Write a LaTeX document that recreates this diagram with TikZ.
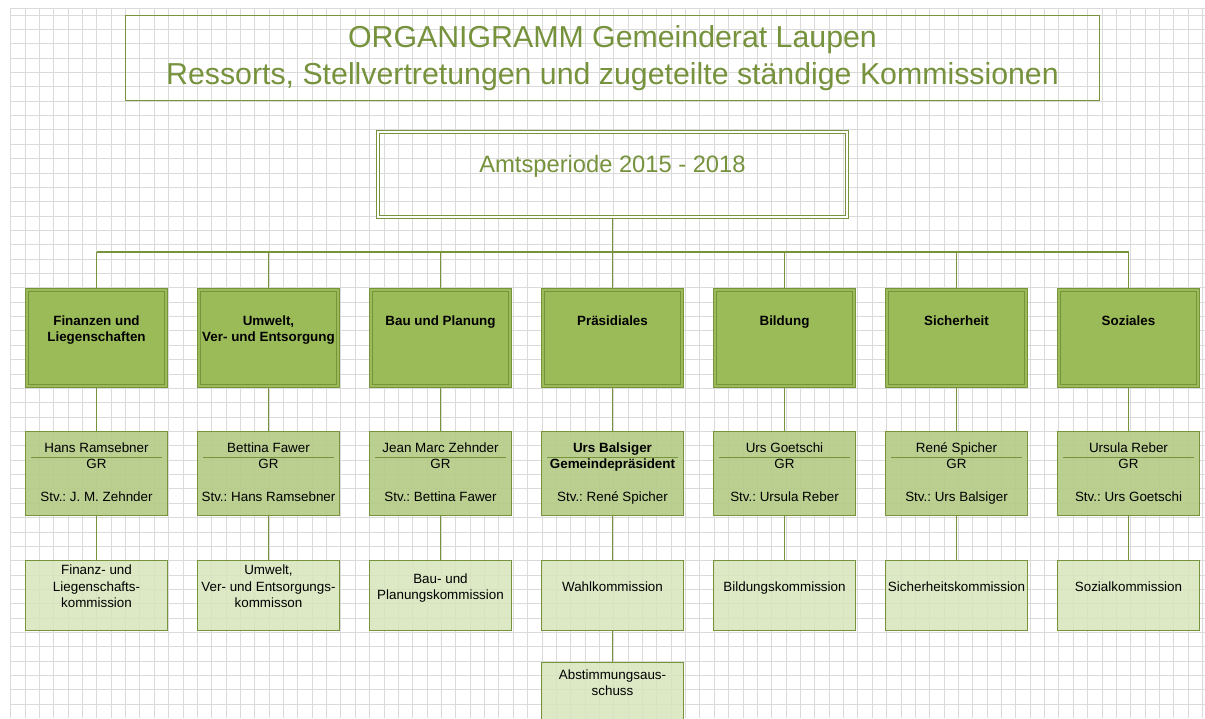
\documentclass[tikz,border=0pt]{standalone}
\usepackage{fontspec}
\setmainfont{Liberation Sans}
\frenchspacing
\definecolor{oborder}{HTML}{77933C}
\definecolor{otitle}{HTML}{76923C}
\definecolor{topfill}{HTML}{9BBB59}
\definecolor{midfill}{HTML}{B6CC89}
\definecolor{lowfill}{HTML}{D8E4BC}
\definecolor{gridc}{HTML}{DADADA}
\begin{document}
\begin{tikzpicture}[x=1pt,y=-1pt,
  gridline/.style={draw=gridc, line width=0.8pt},
  conn/.style={draw=oborder, line width=1.3pt},
  titlebox/.style={rectangle, draw=oborder, line width=1.2pt, minimum width=973.8pt, minimum height=84.8pt, inner sep=0pt, align=center, text=otitle, font=\fontsize{30.3}{36.7}\selectfont\frenchspacing},
  amtbox/.style={rectangle, draw=oborder, line width=0.9pt, double=white, double distance=1.8pt, minimum width=469.4pt, minimum height=85.4pt, inner sep=0pt},
  amttext/.style={text=otitle, font=\fontsize{23.7}{27}\selectfont, inner sep=0pt},
  deptbox/.style={rectangle, draw=oborder, line width=1.1pt, double=topfill, double distance=1.6pt, fill=topfill, minimum width=139.2pt, minimum height=96.2pt, inner sep=0pt},
  depttext/.style={anchor=north, align=center, inner sep=0pt, font=\fontsize{13.4}{16.4}\selectfont\bfseries\frenchspacing},
  persbox/.style={rectangle, draw=oborder, line width=1.2pt, fill=midfill, fill opacity=0.93, text opacity=1, minimum width=141.8pt, minimum height=83.8pt, inner sep=0pt, align=center, font=\fontsize{13.4}{16.4}\selectfont\frenchspacing},
  kombox/.style={rectangle, draw=oborder, line width=1.2pt, fill=lowfill, fill opacity=0.85, draw opacity=1, minimum width=141.8pt, minimum height=69.8pt, inner sep=0pt},
  komtext/.style={align=center, inner sep=0pt, font=\fontsize{13.4}{16.4}\selectfont\frenchspacing},
  sepline/.style={draw=oborder, line width=0.9pt}
]
\useasboundingbox (0,0) rectangle (1205,718);
\fill[white] (0,0) rectangle (1205,718);
% grid
\foreach \i in {0,...,83} { \draw[gridline] ({10.6+\i*14.36},8) -- ({10.6+\i*14.36},718); }
\foreach \k in {1,...,49} { \draw[gridline] (10,{0.6+\k*14.36}) -- (1205,{0.6+\k*14.36}); }
\draw[gridline] (10,8) -- (1205,8);

% title
\node[titlebox] (title) at (612.5,58) {ORGANIGRAMM Gemeinderat Laupen\\Ressorts, Stellvertretungen und zugeteilte ständige Kommissionen};

% Amtsperiode
\node[amtbox] (amt) at (612.5,174.5) {};
\node[amttext] (amtt) at (612.5,166.5) {Amtsperiode 2015 - 2018};

% departments
\node[deptbox] (d1) at (96.5,338) {};
\node[deptbox] (d2) at (268.5,338) {};
\node[deptbox] (d3) at (440.5,338) {};
\node[deptbox] (d4) at (612.5,338) {};
\node[deptbox] (d5) at (784.5,338) {};
\node[deptbox] (d6) at (956.5,338) {};
\node[deptbox] (d7) at (1128.5,338) {};
\node[depttext] (d1t) at (96.5,313.5) {\strut Finanzen und\\Liegenschaften};
\node[depttext] (d2t) at (268.5,313.5) {\strut Umwelt,\\Ver- und Entsorgung};
\node[depttext] (d3t) at (440.5,313.5) {\strut Bau und Planung};
\node[depttext] (d4t) at (612.5,313.5) {\strut Präsidiales};
\node[depttext] (d5t) at (784.5,313.5) {\strut Bildung};
\node[depttext] (d6t) at (956.5,313.5) {\strut Sicherheit};
\node[depttext] (d7t) at (1128.5,313.5) {\strut Soziales};

% persons
\node[persbox] (p1) at (96.5,473.5) {\strut Hans Ramsebner\\GR\\[16.4pt]Stv.: J. M. Zehnder\strut};
\node[persbox] (p2) at (268.5,473.5) {\strut Bettina Fawer\\GR\\[16.4pt]Stv.: Hans Ramsebner\strut};
\node[persbox] (p3) at (440.5,473.5) {\strut Jean Marc Zehnder\\GR\\[16.4pt]Stv.: Bettina Fawer\strut};
\node[persbox] (p4) at (612.5,473.5) {\strut\textbf{Urs Balsiger}\\\textbf{Gemeindepräsident}\\[16.4pt]Stv.: René Spicher\strut};
\node[persbox] (p5) at (784.5,473.5) {\strut Urs Goetschi\\GR\\[16.4pt]Stv.: Ursula Reber\strut};
\node[persbox] (p6) at (956.5,473.5) {\strut René Spicher\\GR\\[16.4pt]Stv.: Urs Balsiger\strut};
\node[persbox] (p7) at (1128.5,473.5) {\strut Ursula Reber\\GR\\[16.4pt]Stv.: Urs Goetschi\strut};
\foreach \n in {p1,p2,p3,p4,p5,p6,p7} {
  \draw[sepline] ([shift={(6,26)}]\n.north west) -- ([shift={(-6,26)}]\n.north east);
}

% commissions
\node[kombox] (k1) at (96.5,595.5) {};
\node[kombox] (k2) at (268.5,595.5) {};
\node[kombox] (k3) at (440.5,595.5) {};
\node[kombox] (k4) at (612.5,595.5) {};
\node[kombox] (k5) at (784.5,595.5) {};
\node[kombox] (k6) at (956.5,595.5) {};
\node[kombox] (k7) at (1128.5,595.5) {};
\node[kombox, minimum height=83.8pt] (k8) at (612.5,704) {};
\node[komtext] (k1t) at (96.5,588) {\strut Finanz- und\\Liegenschafts-\\kommission\strut};
\node[komtext] (k2t) at (268.5,588) {\strut Umwelt,\\Ver- und Entsorgungs-\\kommisson\strut};
\node[komtext] (k3t) at (440.5,588) {\strut Bau- und\\Planungskommission\strut};
\node[komtext] (k4t) at (612.5,588) {\strut Wahlkommission};
\node[komtext] (k5t) at (784.5,588) {\strut Bildungskommission};
\node[komtext] (k6t) at (956.5,588) {\strut Sicherheitskommission};
\node[komtext] (k7t) at (1128.5,588) {\strut Sozialkommission};
\node[komtext] (k8t) at (612.5,684) {\strut Abstimmungsaus-\\schuss\strut};

% connectors
\coordinate (bus) at (612.5,252);
\draw[conn] (amt.south) -- (bus);
\draw[conn] (d1.north |- bus) -- (d7.north |- bus);
\foreach \i in {1,...,7} {
  \draw[conn] (bus -| d\i.north) -- (d\i.north);
  \draw[conn] (d\i.south) -- (p\i.north);
  \draw[conn] (p\i.south) -- (k\i.north);
}
\draw[conn] (k4.south) -- (k8.north);
\end{tikzpicture}
\end{document}
